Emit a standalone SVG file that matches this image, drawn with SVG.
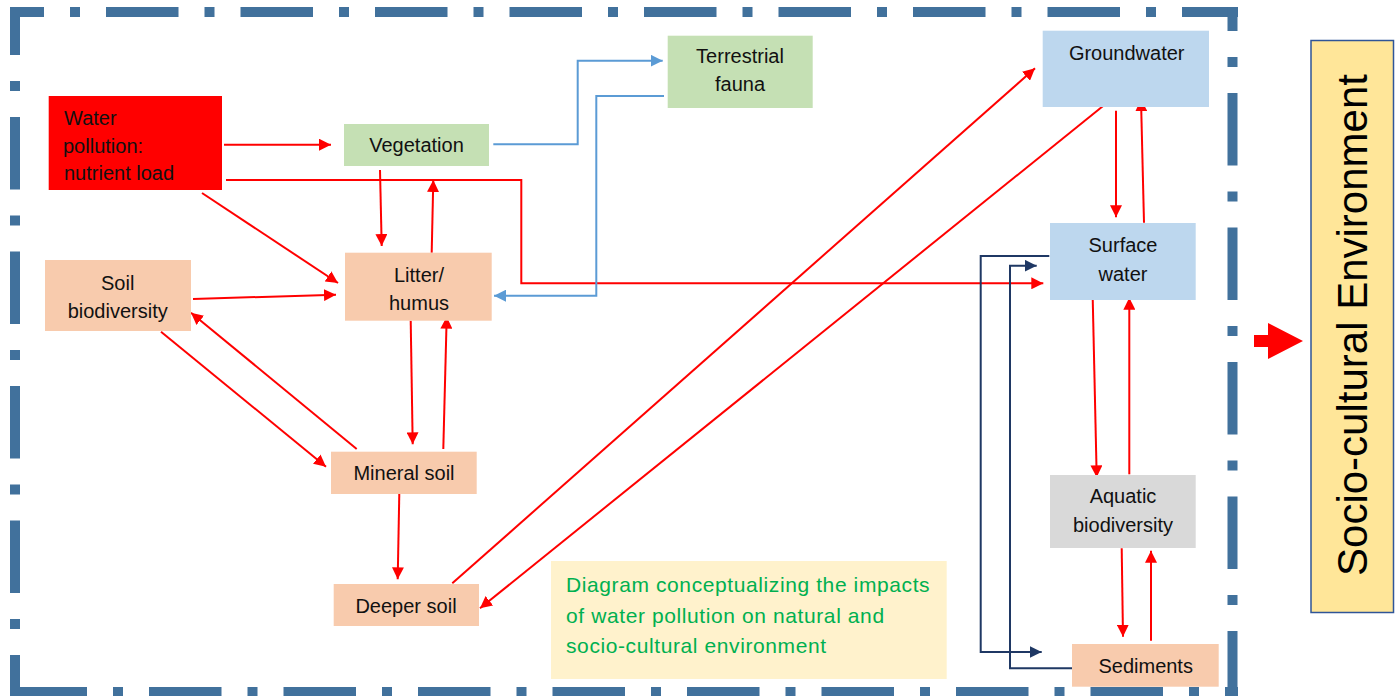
<svg xmlns="http://www.w3.org/2000/svg" width="1400" height="696" viewBox="0 0 1400 696">
  <style>
    .frame { stroke: #41719C; stroke-width: 10; fill: none; stroke-dasharray: 72.5 26 10 26; }
    .lbl { font-family: "Liberation Sans", Arial, sans-serif; font-size: 20px; fill: #111; text-anchor: middle; }
    .red { stroke: #FF0000; stroke-width: 2; fill: none; marker-end: url(#ahRed); }
    .blue { stroke: #5B9BD5; stroke-width: 2; fill: none; marker-end: url(#ahBlue); }
    .navy { stroke: #1F3864; stroke-width: 2; fill: none; marker-end: url(#ahNavy); }
    .caption { font-family: "Liberation Sans", Arial, sans-serif; font-size: 21px; fill: #00B050; letter-spacing: 0.6px; }
  </style>
  <defs>
    <marker id="ahRed" viewBox="0 0 12 12" markerWidth="12" markerHeight="12" refX="12" refY="6" orient="auto" markerUnits="userSpaceOnUse">
      <path d="M0,0 L12,6 L0,12 z" fill="#FF0000"/>
    </marker>
    <marker id="ahBlue" viewBox="0 0 12 12" markerWidth="12" markerHeight="12" refX="12" refY="6" orient="auto" markerUnits="userSpaceOnUse">
      <path d="M0,0 L12,6 L0,12 z" fill="#5B9BD5"/>
    </marker>
    <marker id="ahNavy" viewBox="0 0 12 12" markerWidth="12" markerHeight="12" refX="12" refY="6" orient="auto" markerUnits="userSpaceOnUse">
      <path d="M0,0 L12,6 L0,12 z" fill="#1F3864"/>
    </marker>
  </defs>

  <rect width="1400" height="696" fill="#FFFFFF"/>

  <!-- dash-dot boundary of the natural environment -->
  <g id="boundary">
    <line class="frame" x1="10" y1="12" x2="1238" y2="12" stroke-dashoffset="38.5"/>
    <line class="frame" x1="1232.5" y1="7" x2="1232.5" y2="697" stroke-dashoffset="48.5"/>
    <line class="frame" x1="10" y1="692" x2="1238" y2="692" stroke-dashoffset="130"/>
    <line class="frame" x1="15" y1="7" x2="15" y2="697" stroke-dashoffset="24.5"/>
  </g>

  <!-- connectors -->
  <g id="connectors">
    <line class="red" x1="224" y1="144.7" x2="331" y2="144.7"/>
    <polyline class="red" points="226,180 521.3,180 521.3,283.3 1043.3,283.3"/>
    <line class="red" x1="202" y1="193" x2="338" y2="283"/>
    <line class="red" x1="380" y1="170" x2="381.7" y2="246"/>
    <line class="red" x1="431.7" y1="252.7" x2="433.3" y2="180"/>
    <line class="red" x1="193" y1="299" x2="336" y2="294.7"/>
    <line class="red" x1="356.7" y1="449" x2="191" y2="312.7"/>
    <line class="red" x1="161" y1="331.7" x2="326" y2="466.7"/>
    <line class="red" x1="410.7" y1="320.7" x2="412.7" y2="444.3"/>
    <line class="red" x1="443.3" y1="449" x2="446.7" y2="316.7"/>
    <line class="red" x1="399.3" y1="493" x2="397.7" y2="579.3"/>
    <line class="red" x1="452.3" y1="583.3" x2="1035" y2="68.3"/>
    <line class="red" x1="1104.3" y1="105" x2="480" y2="608.3"/>
    <line class="red" x1="1116" y1="110.7" x2="1116" y2="217.3"/>
    <line class="red" x1="1144" y1="222.7" x2="1141" y2="99.3"/>
    <line class="red" x1="1092.7" y1="297.7" x2="1096.7" y2="477.3"/>
    <line class="red" x1="1129.3" y1="474.3" x2="1129.3" y2="297.7"/>
    <line class="red" x1="1121.7" y1="548.3" x2="1123" y2="636.7"/>
    <line class="red" x1="1151" y1="640.7" x2="1151" y2="550.7"/>

    <polyline class="blue" points="493.3,144.3 577.7,144.3 577.7,60.7 662.7,60.7"/>
    <polyline class="blue" points="664,96 596.3,96 596.3,295.7 494,295.7"/>

    <polyline class="navy" points="1049.3,256 980.7,256 980.7,652 1041.7,652"/>
    <polyline class="navy" points="1077.3,668.3 1010,668.3 1010,265.7 1036.7,265.7"/>
  </g>

  <g id="water-pollution">
    <rect x="48.7" y="96" width="173.3" height="94" fill="#FF0000"/>
    <text class="lbl" style="text-anchor:start" x="64" y="125">Water</text>
    <text class="lbl" style="text-anchor:start" x="63" y="153">pollution:</text>
    <text class="lbl" style="text-anchor:start" x="64" y="180">nutrient load</text>
  </g>

  <g id="vegetation">
    <rect x="344" y="124" width="145" height="42" fill="#C5E0B4"/>
    <text class="lbl" x="416.5" y="152">Vegetation</text>
  </g>

  <g id="terrestrial-fauna">
    <rect x="667.7" y="35.7" width="145" height="72.3" fill="#C5E0B4"/>
    <text class="lbl" x="740" y="63">Terrestrial</text>
    <text class="lbl" x="740" y="91">fauna</text>
  </g>

  <g id="groundwater">
    <rect x="1042.7" y="30.7" width="166.3" height="76.3" fill="#BDD7EE"/>
    <text class="lbl" x="1126.7" y="60">Groundwater</text>
  </g>

  <g id="surface-water">
    <rect x="1050" y="223" width="145.7" height="77" fill="#BDD7EE"/>
    <text class="lbl" x="1123" y="252">Surface</text>
    <text class="lbl" x="1123" y="281">water</text>
  </g>

  <g id="litter-humus">
    <rect x="345" y="252.7" width="146.7" height="68" fill="#F8CBAD"/>
    <text class="lbl" x="419" y="282">Litter/</text>
    <text class="lbl" x="419" y="310">humus</text>
  </g>

  <g id="soil-biodiversity">
    <rect x="45" y="260" width="146" height="71" fill="#F8CBAD"/>
    <text class="lbl" x="117.7" y="290">Soil</text>
    <text class="lbl" x="117.7" y="318">biodiversity</text>
  </g>

  <g id="mineral-soil">
    <rect x="331" y="451.7" width="145.7" height="42.3" fill="#F8CBAD"/>
    <text class="lbl" x="404" y="480">Mineral soil</text>
  </g>

  <g id="deeper-soil">
    <rect x="333.7" y="584" width="145.3" height="42" fill="#F8CBAD"/>
    <text class="lbl" x="406" y="613">Deeper soil</text>
  </g>

  <g id="aquatic-biodiversity">
    <rect x="1050" y="475" width="145.7" height="73" fill="#D9D9D9"/>
    <text class="lbl" x="1123" y="503">Aquatic</text>
    <text class="lbl" x="1123" y="531.7">biodiversity</text>
  </g>

  <g id="sediments">
    <rect x="1072" y="644" width="146.7" height="42.7" fill="#F8CBAD"/>
    <text class="lbl" x="1145.7" y="673">Sediments</text>
  </g>

  <g id="caption">
    <rect x="551" y="561" width="395.7" height="118" fill="#FFF2CC"/>
    <text class="caption" x="566" y="591.7">Diagram conceptualizing the impacts</text>
    <text class="caption" x="566" y="622.7">of water pollution on natural and</text>
    <text class="caption" x="566" y="653">socio-cultural environment</text>
  </g>

  <g id="outcome-arrow">
    <path d="M1254,335 L1268,335 L1268,323 L1303,341 L1268,359 L1268,347 L1254,347 z" fill="#FF0000"/>
  </g>

  <g id="socio-cultural-environment">
    <rect x="1311" y="40.5" width="82.5" height="572" fill="#FFE699" stroke="#2F5597" stroke-width="1.5"/>
    <text transform="translate(1367,325) rotate(-90)" font-family="'Liberation Sans', Arial, sans-serif" font-size="42" fill="#000" text-anchor="middle">Socio-cultural Environment</text>
  </g>
</svg>
